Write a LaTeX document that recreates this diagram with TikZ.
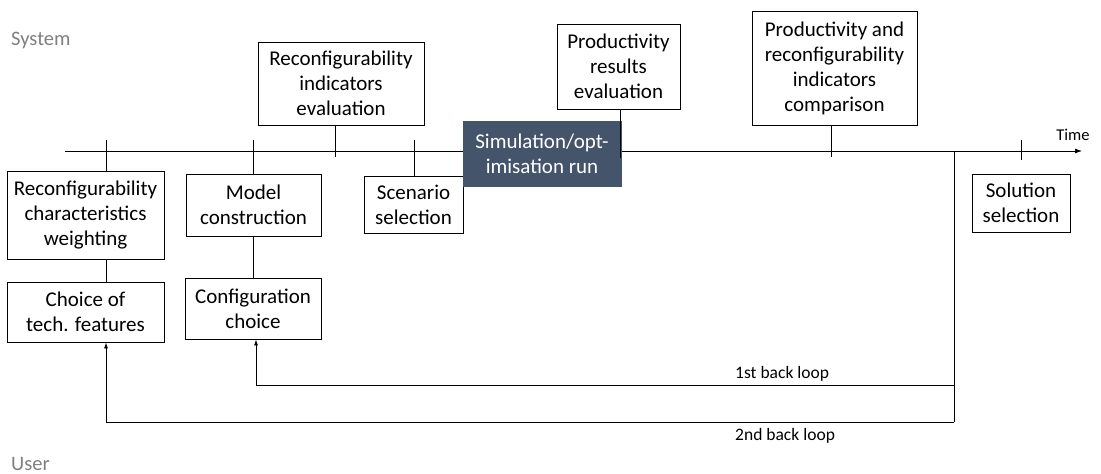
\documentclass[tikz,border=0pt]{standalone}
\usepackage{fontspec}
\setmainfont{Carlito}
\usetikzlibrary{arrows.meta}
\definecolor{simfill}{HTML}{44546A}
\definecolor{lblgray}{HTML}{7F7F7F}
\begin{document}
\begin{tikzpicture}[x=1pt,y=-1pt,
  box/.style={draw=black, line width=0.9pt, fill=white, align=center, inner sep=0pt,
     font=\fontsize{21}{25}\selectfont},
  link/.style={line width=0.8pt},
  loop/.style={line width=0.8pt, -{Latex[length=6pt,width=4pt]}},
  small/.style={font=\fontsize{17.5}{20}\selectfont, inner sep=0pt, anchor=base west},
  side/.style={font=\fontsize{20.5}{24}\selectfont, text=lblgray, inner sep=0pt, anchor=base west}]
\useasboundingbox (0,0) rectangle (1101,474);
% labels
\node[side] (sys) at (11,45) {System};
\node[side] (usr) at (11,470) {User};
% timeline
\coordinate (t0) at (65,151);
\coordinate (t1) at (1082,151);
\draw[line width=0.8pt, -{Latex[length=7pt,width=5pt]}] (t0) -- (t1);
\node[font=\fontsize{16.5}{19}\selectfont, inner sep=0pt, anchor=base] (time) at (1073,140) {Time};
% boxes
\node[box, minimum width=157pt, minimum height=88pt] (rcw) at (85.5,215) {Reconfigurability\\characteristics\\weighting};
\node[box, minimum width=157pt, minimum height=60pt] (ctf) at (85.5,312) {Choice of\\tech. features};
\node[box, minimum width=135pt, minimum height=62pt] (mc) at (253.5,205) {Model\\construction};
\node[box, minimum width=136pt, minimum height=61pt] (cc) at (253,308.5) {Configuration\\choice};
\node[box, minimum width=166pt, minimum height=83pt] (rie) at (341,83.5) {Reconfigurability\\indicators\\evaluation};
\node[box, minimum width=99pt, minimum height=57pt] (ss) at (413.5,204.5) {Scenario\\selection};
\node[box, draw=simfill, fill=simfill, text=white, minimum width=158pt, minimum height=65pt] (sim) at (542,153.5) {Simulation/opt-\\imisation run};
\node[box, minimum width=123pt, minimum height=85pt] (pre) at (618.5,66.5) {Productivity\\results\\evaluation};
\node[box, minimum width=165pt, minimum height=114pt] (pric) at (834.5,68) {Productivity and\\reconfigurability\\indicators\\comparison};
\node[box, minimum width=98pt, minimum height=58pt] (sol) at (1021,203) {Solution\\selection};
% ticks
\coordinate (k1) at (106,140);
\coordinate (k2) at (253,140);
\coordinate (k3) at (335,157);
\coordinate (k4) at (414,140);
\coordinate (k5) at (620,158);
\coordinate (k6) at (831,157);
\coordinate (k7a) at (1021,140);
\coordinate (k7b) at (1021,160);
\draw[link] (k1) -- (k1 |- rcw.north);
\draw[link] (k1 |- rcw.south) -- (k1 |- ctf.north);
\draw[link] (k2) -- (k2 |- mc.north);
\draw[link] (k2 |- mc.south) -- (k2 |- cc.north);
\draw[link] (rie.south -| k3) -- (k3);
\draw[link] (k4) -- (k4 |- ss.north);
\draw[link] (pre.south -| k5) -- (k5);
\draw[link] (pric.south -| k6) -- (k6);
\draw[link] (k7a) -- (k7b);
% back loops
\coordinate (v0) at (954,151);
\coordinate (l1) at (954,385);
\coordinate (l2) at (954,422);
\coordinate (a1) at (256,385);
\coordinate (a2) at (106,422);
\draw[link] (v0) -- (l2);
\draw[loop] (l1) -- (a1) -- (a1 |- cc.south);
\draw[loop] (l2) -- (a2) -- (a2 |- ctf.south);
\node[small] (bl1) at (735,378) {1st back loop};
\node[small] (bl2) at (735,440) {2nd back loop};
\end{tikzpicture}
\end{document}
